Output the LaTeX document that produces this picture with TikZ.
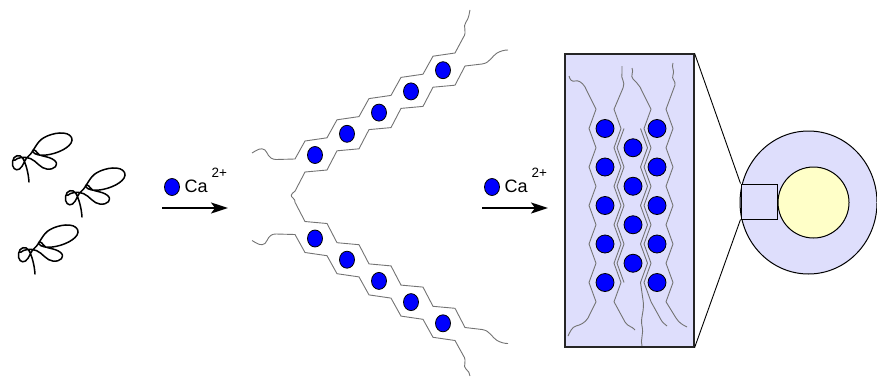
\documentclass[tikz,border=0pt]{standalone}
\usepackage{fontspec}
\setmainfont{Liberation Sans}
\usetikzlibrary{arrows.meta,shapes.geometric}
\definecolor{lav}{RGB}{222,222,252}
\definecolor{paleyellow}{RGB}{255,255,200}
\definecolor{ionblue}{RGB}{0,0,255}
\definecolor{strand}{RGB}{115,115,115}
\begin{document}
\begin{tikzpicture}[x=1pt,y=-1pt,
  ion/.style={ellipse,draw=black,line width=0.8pt,fill=ionblue,minimum width=15pt,minimum height=17pt,inner sep=0pt},
  boxion/.style={ion,minimum width=18pt,minimum height=18pt},
  chain/.style={draw=strand,line width=0.9pt,line join=miter},
  coilline/.style={draw=black,line width=1.5pt,line cap=round,line join=round},
  reaction/.style={draw=black,line width=2pt,-{Stealth[length=17pt,width=11pt,inset=4pt]}},
  ionlabel/.style={inner sep=0pt,font=\fontsize{18}{21}\selectfont},
  chargelabel/.style={inner sep=0pt,font=\fontsize{13.5}{16}\selectfont},
  coil/.pic={\draw[coilline,scale=0.3]
      (70,190) .. controls (68,160) and (60,130) .. (50,112)
      .. controls (40,95) and (18,100) .. (15,122)
      .. controls (12,142) and (25,155) .. (38,147)
      .. controls (52,138) and (55,112) .. (70,102)
      .. controls (85,90) and (95,55) .. (120,42)
      .. controls (150,25) and (200,18) .. (212,42)
      .. controls (222,65) and (180,90) .. (140,98)
      .. controls (110,104) and (88,100) .. (82,88)
      .. controls (79,80) and (92,82) .. (97,92)
      .. controls (102,106) and (135,102) .. (155,118)
      .. controls (172,132) and (155,150) .. (130,147)
      .. controls (108,145) and (95,120) .. (75,112)
      .. controls (55,104) and (32,108) .. (22,118);}
]
\useasboundingbox (0,0) rectangle (877,380);

% free alginate coils
\pic (coilA) at (8,125) {coil};
\pic (coilB) at (61,160) {coil};
\pic (coilC) at (14,217) {coil};

% first reaction step
\node[ion] (ionA) at (172,187) {};
\node[ionlabel,anchor=base west] (caA) at (184.5,192.5) {Ca};
\node[chargelabel,anchor=base west] (chA) at (211.5,177) {2+};
\coordinate (arrAs) at (162,208);
\coordinate (arrAe) at (228,208);
\draw[reaction] (arrAs) -- (arrAe);

% egg-box dimer: outer strands
\draw[chain] (252,153) .. controls (257,150) and (261,147) .. (265,150)
  .. controls (268,153) and (268,159) .. (276,159.5) -- (295,159)
  \foreach \i in {0,...,4} { -- ({305+32*\i},{141-21.2*\i}) -- ({327+32*\i},{137.8-21.2*\i}) }
  -- (463,38) .. controls (468,31) and (462,27) .. (466,22)
  .. controls (469,18) and (469,14) .. (470,10);
\draw[chain] (252,240.5) .. controls (257,243.5) and (261,246.5) .. (265,243.5)
  .. controls (268,240.5) and (268,234) .. (276,234) -- (295,234.5)
  \foreach \i in {0,...,4} { -- ({305+32*\i},{252.5+21.2*\i}) -- ({327+32*\i},{255.7+21.2*\i}) }
  -- (463,355) .. controls (468,362) and (462,366) .. (466,369)
  .. controls (469,371) and (469,373) .. (470,376);
% inner strand joining both arms
\draw[chain] (508,50) .. controls (504,50) and (501,51) .. (497,53)
  .. controls (492,56) and (490,63) .. (482,64) -- (465,66)
  \foreach \i in {4,3,2,1,0} { -- ({327+32*\i},{170-21.2*\i}) -- ({305+32*\i},{172-21.2*\i}) }
  -- (295,191.2) .. controls (291,194) and (290,196) .. (293,198)
  .. controls (295,199.5) and (295,201) .. (295,202.3)
  \foreach \i in {0,...,4} { -- ({305+32*\i},{221.5+21.2*\i}) -- ({327+32*\i},{223.5+21.2*\i}) }
  -- (465,327.5) -- (482,329.5) .. controls (490,330.5) and (492,337.5) .. (497,340.5)
  .. controls (501,342.5) and (504,343.5) .. (508,343.5);
\foreach \i in {0,...,4} {
  \node[ion] (up\i) at ({315+32*\i},{155-21.2*\i}) {};
  \node[ion] (lo\i) at ({315+32*\i},{238.5+21.2*\i}) {};
}

% second reaction step
\node[ion] (ionB) at (492,187) {};
\node[ionlabel,anchor=base west] (caB) at (504.5,192.5) {Ca};
\node[chargelabel,anchor=base west] (chB) at (531.5,177) {2+};
\coordinate (arrBs) at (482,208);
\coordinate (arrBe) at (548,208);
\draw[reaction] (arrBs) -- (arrBe);

% bead cross-section
\node[ellipse,draw=black,line width=1pt,fill=lav,minimum width=137pt,minimum height=143pt,inner sep=0pt] (bead) at (808.5,202.5) {};
\node[circle,draw=black,line width=1pt,fill=paleyellow,minimum size=71pt,inner sep=0pt] (core) at (813.5,202.5) {};
\node[draw=black,line width=1pt,fill=lav,minimum width=36pt,minimum height=35pt,inner sep=0pt] (detail) at (759,201.5) {};

% magnified network
\node[draw=black!85,line width=1.2pt,fill=lav,minimum width=129pt,minimum height=293pt,inner sep=0pt] (zoombox) at (629.5,200.5) {};
\draw[line width=0.9pt] (zoombox.north east) -- (detail.north west);
\draw[line width=0.9pt] (zoombox.south east) -- (detail.south west);

\draw[chain] (569,76) .. controls (570,80) and (572,82) .. (575,81)
  .. controls (578,80) and (582,82) .. (585,87) -- (596,109.25)
  \foreach \k in {0,...,4} { -- (589,{128.5+38.5*\k}) -- (596,{147.75+38.5*\k}) }
  -- (588,318) .. controls (585,323) and (580,325) .. (576,326)
  .. controls (572,327) and (570,332) .. (568,336);
\draw[chain] (622,66) .. controls (621,68) and (623,70) .. (622,73)
  .. controls (620,78) and (626,82) .. (623,88) -- (614,109.25)
  \foreach \k in {0,...,4} { -- (621,{128.5+38.5*\k}) -- (614,{147.75+38.5*\k}) }
  -- (625,322) .. controls (628,327) and (632,326) .. (635,330);
\draw[chain] (624,128.5)
  \foreach \k in {0,...,3} { -- (617,{147.75+38.5*\k}) -- (624,{167+38.5*\k}) };
\draw[chain] (640.5,128.5)
  \foreach \k in {0,...,3} { -- (647.5,{147.75+38.5*\k}) -- (640.5,{167+38.5*\k}) }
  -- (643,300) .. controls (645,310) and (640,318) .. (642,326)
  .. controls (644,334) and (640,340) .. (642,346);
\draw[chain] (632,68) .. controls (634,72) and (630,76) .. (633,79)
  .. controls (636,82) and (638,84) .. (640,87) -- (651,109.25)
  \foreach \k in {0,...,4} { -- (644,{128.5+38.5*\k}) -- (651,{147.75+38.5*\k}) }
  -- (660,318) .. controls (662,322) and (664,324) .. (667,326);
\draw[chain] (673,63) .. controls (671,67) and (675,71) .. (673,75)
  .. controls (671,79) and (676,81) .. (675,85) -- (666,109.25)
  \foreach \k in {0,...,4} { -- (673,{128.5+38.5*\k}) -- (666,{147.75+38.5*\k}) }
  -- (676,318) .. controls (679,323) and (683,325) .. (687,327);

\foreach \k in {0,...,4} {
  \node[boxion] (bl\k) at (605,{128.5+38.5*\k}) {};
  \node[boxion] (br\k) at (657,{128.5+38.5*\k}) {};
}
\foreach \k in {0,...,3} {
  \node[boxion] (bm\k) at (633,{147.75+38.5*\k}) {};
}
\end{tikzpicture}
\end{document}
